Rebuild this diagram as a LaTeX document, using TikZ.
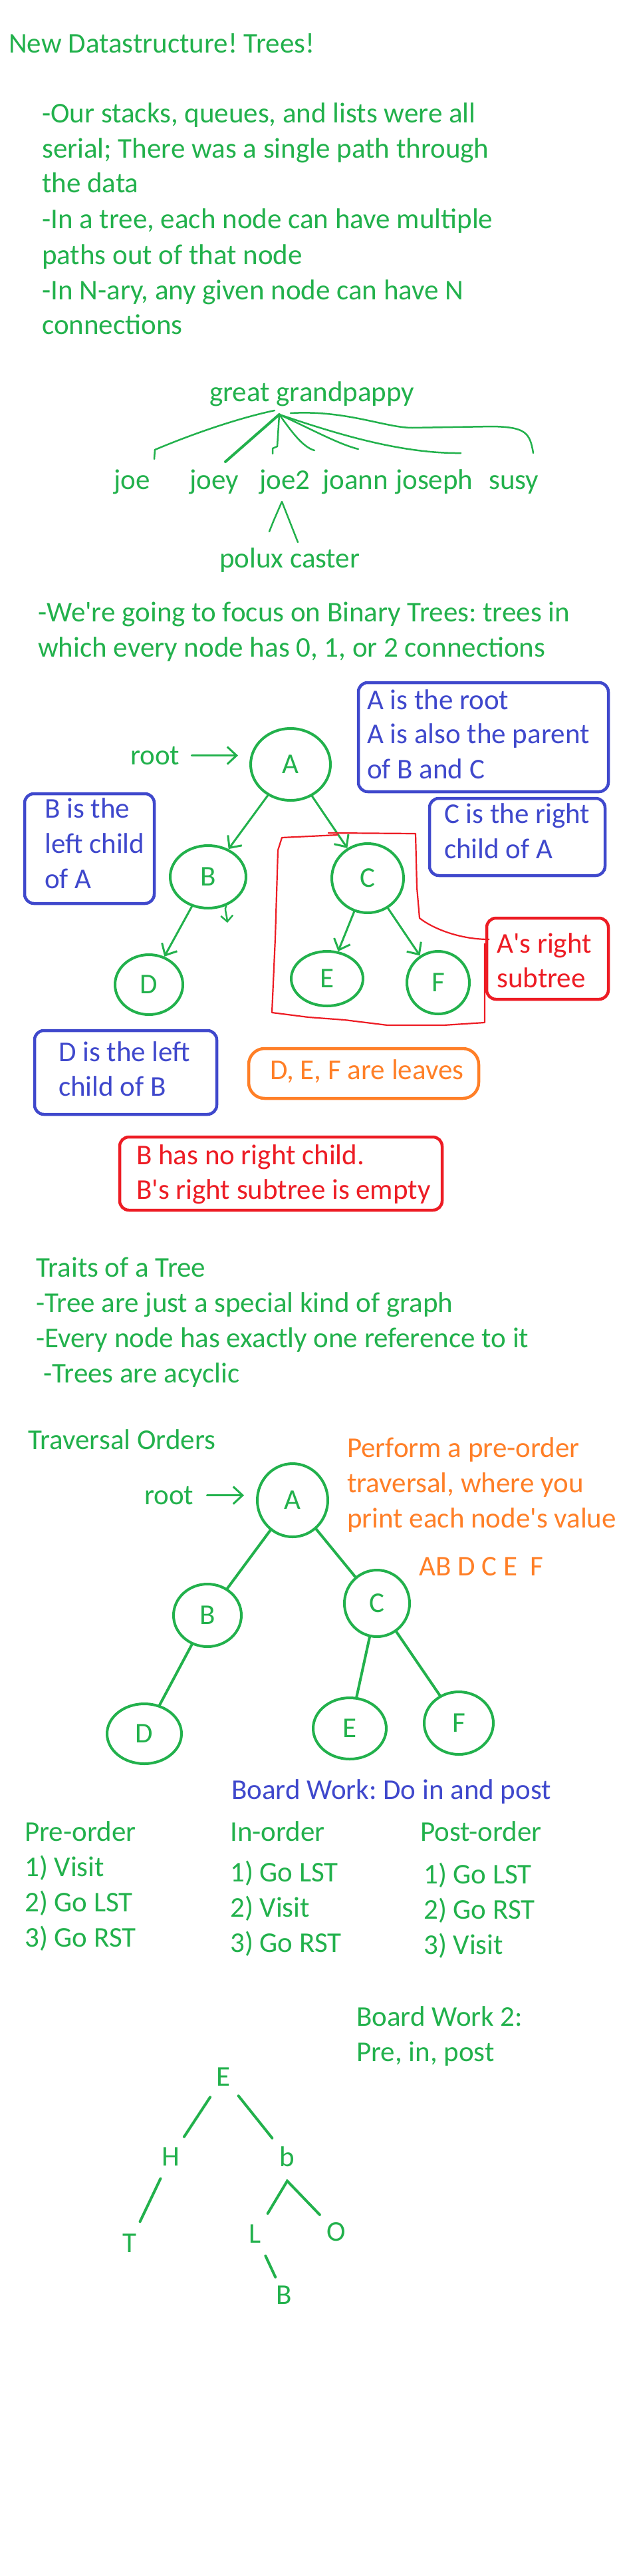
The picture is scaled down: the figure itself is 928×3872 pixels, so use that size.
\documentclass[tikz,border=0pt]{standalone}
\usepackage{fontspec}
\setmainfont{Carlito}
\usetikzlibrary{arrows.meta,shapes.geometric}
\definecolor{pgreen}{RGB}{34,177,76}
\definecolor{pblue}{RGB}{63,72,204}
\definecolor{pred}{RGB}{237,28,36}
\definecolor{porange}{RGB}{255,127,39}
\frenchspacing
\tikzset{
  txt/.style={anchor=base west, inner sep=0pt, font=\fontsize{43}{53}\selectfont},
  gtxt/.style={txt, text=pgreen},
  btxt/.style={txt, text=pblue},
  rtxt/.style={txt, text=pred},
  otxt/.style={txt, text=porange},
  tnode/.style={ellipse, draw=pgreen, line width=4pt, inner sep=0pt, text=pgreen,
    font=\fontsize{43}{53}\selectfont},
  letter/.style={circle, inner sep=0pt, minimum size=72pt, text=pgreen,
    font=\fontsize{43}{53}\selectfont},
  arr/.style={draw=pgreen, line width=3pt, line cap=round,
    -{Straight Barb[length=14pt,width=26pt,line width=3pt]}},
  branch/.style={draw=pgreen, line width=4pt, line cap=round},
  fam/.style={draw=pgreen, line width=2.5pt, line cap=round, line join=round},
  bluebox/.style={draw=pblue, line width=4.5pt, rounded corners=14pt},
  redbox/.style={draw=pred, line width=4.5pt, rounded corners=14pt},
  orangebox/.style={draw=porange, line width=4.5pt, rounded corners=24pt},
  subtree/.style={draw=pred, line width=2.2pt, line join=round}
}
\newcommand{\apos}{\textquotesingle}
\begin{document}
\begin{tikzpicture}[x=1pt, y=-1pt]
  \path[fill=white] (0,0) rectangle (928,3872);
  \useasboundingbox (0,0) rectangle (928,3872);

  % intro
  \node[gtxt] (title) at (13,80) {New Datastructure! Trees!};
  \node[gtxt] (intro1) at (63,185) {-Our stacks, queues, and lists were all};
  \node[gtxt] (intro2) at (63,238) {serial; There was a single path through};
  \node[gtxt] (intro3) at (63,290) {the data};
  \node[gtxt] (intro4) at (63,343) {-In a tree, each node can have multiple};
  \node[gtxt] (intro5) at (63,397) {paths out of that node};
  \node[gtxt] (intro6) at (63,450) {-In N-ary, any given node can have N};
  \node[gtxt] (intro7) at (63,502) {connections};

  % family tree
  \node[gtxt] (gpappy) at (315,603) {great grandpappy};
  \node[gtxt] (joe) at (171,735) {joe};
  \node[gtxt] (joey) at (285,735) {joey};
  \node[gtxt] (joetwo) at (390,735) {joe2};
  \node[gtxt] (joann) at (485,735) {joann};
  \node[gtxt] (joseph) at (595,735) {joseph};
  \node[gtxt] (susy) at (735,735) {susy};
  \node[gtxt] (polux) at (330,853) {polux caster};
  \coordinate (hub) at (420,623);
  \draw[fam] (413,617) .. controls (360,628) and (290,652) .. (233,676) -- (232,690);
  \draw[fam, line width=4pt] (hub) -- (339,694);
  \draw[fam] (hub) -- (417,671) -- (410,674) -- (410,682);
  \draw[fam] (hub) .. controls (438,648) and (455,672) .. (473,677);
  \draw[fam] (hub) .. controls (468,645) and (510,668) .. (539,675);
  \draw[fam] (hub) .. controls (500,650) and (600,682) .. (693,681);
  \draw[fam] (437,621) .. controls (520,616) and (580,643) .. (620,643) -- (741,641)
    .. controls (790,642) and (797,650) .. (802,681);
  \draw[fam] (405,799) -- (411,784) -- (424,754) -- (448,815);

  \node[gtxt] (binary1) at (57,934) {-We\apos re going to focus on Binary Trees: trees in};
  \node[gtxt] (binary2) at (57,987) {which every node has 0, 1, or 2 connections};

  % first binary tree
  \node[tnode, minimum width=120pt, minimum height=108pt] (A1) at (437,1149) {A};
  \node[tnode, minimum width=114pt, minimum height=94pt] (B1) at (313,1318) {B};
  \node[tnode, minimum width=108pt, minimum height=104pt] (C1) at (553,1320) {C};
  \node[tnode, minimum width=102pt, minimum height=90pt] (D1) at (224,1480) {D};
  \node[tnode, minimum width=108pt, minimum height=82pt] (E1) at (492,1471) {E};
  \node[tnode, minimum width=94pt, minimum height=94pt] (F1) at (659,1477) {F};
  \draw[arr] (A1) -- (B1);
  \draw[arr] (A1) -- (C1);
  \draw[arr] (B1) -- (D1);
  \draw[arr] (C1) -- (E1);
  \draw[arr] (C1) -- (F1);
  \coordinate (nobranch) at (342,1387);
  \draw[arr, line width=2.5pt, -{Straight Barb[length=9pt,width=18pt,line width=2.5pt]}]
    (B1.-58) .. controls (337,1366) and (341,1374) .. (nobranch);
  \node[gtxt] (root1) at (196,1149) {root};
  \draw[arr, shorten <=18pt, shorten >=17pt] (root1.east) -- (root1.east -| A1.west);

  \draw[subtree] (508,1255) -- (424,1259) -- (418,1278) -- (414,1410) -- (409,1522)
    -- (464,1529) -- (518,1533) -- (583,1541) -- (667,1541) -- (729,1537) -- (729,1418);
  \draw[subtree] (493,1252) -- (625,1253) -- (627,1334) -- (631,1380)
    .. controls (650,1395) and (690,1412) .. (736,1412);

  \draw[bluebox] (539,1026) rectangle (915,1190);
  \node[btxt] (rootnote1) at (552,1066) {A is the root};
  \node[btxt] (rootnote2) at (552,1117) {A is also the parent};
  \node[btxt] (rootnote3) at (552,1170) {of B and C};
  \draw[bluebox] (37,1193) rectangle (232,1358);
  \node[btxt] (leftnote1) at (67,1229) {B is the};
  \node[btxt] (leftnote2) at (67,1282) {left child};
  \node[btxt] (leftnote3) at (67,1335) {of A};
  \draw[bluebox] (646,1200) rectangle (910,1316);
  \node[btxt] (rightnote1) at (668,1237) {C is the right};
  \node[btxt] (rightnote2) at (668,1290) {child of A};
  \draw[redbox] (732,1380) rectangle (915,1502);
  \node[rtxt] (subnote1) at (747,1432) {A\apos s right};
  \node[rtxt] (subnote2) at (747,1484) {subtree};
  \draw[bluebox] (52,1549) rectangle (326,1675);
  \node[btxt] (dnote1) at (88,1595) {D is the left};
  \node[btxt] (dnote2) at (88,1647) {child of B};
  \draw[orangebox] (374,1576) rectangle (720,1651);
  \node[otxt] (leaves) at (406,1622) {D, E, F are leaves};
  \draw[redbox] (180,1709) rectangle (665,1819);
  \node[rtxt] (empty1) at (205,1750) {B has no right child.};
  \node[rtxt] (empty2) at (205,1802) {B\apos s right subtree is empty};

  % traits
  \node[gtxt] (traits) at (54,1919) {Traits of a Tree};
  \node[gtxt] (trait1) at (54,1972) {-Tree are just a special kind of graph};
  \node[gtxt] (trait2) at (54,2025) {-Every node has exactly one reference to it};
  \node[gtxt] (trait3) at (65,2078) {-Trees are acyclic};

  % traversal
  \node[gtxt] (orders) at (42,2178) {Traversal Orders};
  \node[otxt] (task1) at (522,2190) {Perform a pre-order};
  \node[otxt] (task2) at (522,2243) {traversal, where you};
  \node[otxt] (task3) at (522,2296) {print each node\apos s value};
  \node[otxt] (answer) at (630,2368) {AB D C E~~F};
  \node[tnode, minimum width=106pt, minimum height=110pt] (A2) at (440,2255) {A};
  \node[tnode, minimum width=102pt, minimum height=94pt] (B2) at (312,2428) {B};
  \node[tnode, minimum width=98pt, minimum height=100pt] (C2) at (567,2410) {C};
  \node[tnode, minimum width=112pt, minimum height=90pt] (D2) at (217,2606) {D};
  \node[tnode, minimum width=110pt, minimum height=92pt] (E2) at (526,2598) {E};
  \node[tnode, minimum width=104pt, minimum height=94pt] (F2) at (690,2590) {F};
  \draw[branch] (A2) -- (B2);
  \draw[branch] (A2) -- (C2);
  \draw[branch] (B2) -- (D2);
  \draw[branch] (C2) -- (E2);
  \draw[branch] (C2) -- (F2);
  \node[gtxt] (root2) at (217,2261) {root};
  \draw[arr, shorten <=20pt, shorten >=18pt] (root2.east) -- (root2.east -| A2.west);

  % board work
  \node[btxt] (board1) at (348,2704) {Board Work: Do in and post};
  \node[gtxt] (pre0) at (37,2767) {Pre-order};
  \node[gtxt] (pre1) at (37,2820) {1) Visit};
  \node[gtxt] (pre2) at (37,2873) {2) Go LST};
  \node[gtxt] (pre3) at (37,2926) {3) Go RST};
  \node[gtxt] (in0) at (346,2767) {In-order};
  \node[gtxt] (in1) at (346,2828) {1) Go LST};
  \node[gtxt] (in2) at (346,2881) {2) Visit};
  \node[gtxt] (in3) at (346,2934) {3) Go RST};
  \node[gtxt] (post0) at (632,2767) {Post-order};
  \node[gtxt] (post1) at (637,2831) {1) Go LST};
  \node[gtxt] (post2) at (637,2884) {2) Go RST};
  \node[gtxt] (post3) at (637,2937) {3) Visit};

  \node[gtxt] (board2) at (536,3045) {Board Work 2:};
  \node[gtxt] (board2b) at (536,3098) {Pre, in, post};
  \node[letter] (E3) at (336,3122) {E};
  \node[letter] (H3) at (257,3242) {H};
  \node[letter] (b3) at (432,3242) {b};
  \node[letter] (T3) at (195,3372) {T};
  \node[letter] (L3) at (384,3358) {L};
  \node[letter] (O3) at (506,3355) {O};
  \node[letter, minimum size=60pt] (B3) at (427,3450) {B};
  \draw[branch] (E3) -- (H3);
  \draw[branch] (E3) -- (b3);
  \draw[branch] (H3) -- (T3);
  \draw[branch] (L3) -- (b3.south) -- (O3);
  \draw[branch] (L3) -- (B3);
\end{tikzpicture}
\end{document}
